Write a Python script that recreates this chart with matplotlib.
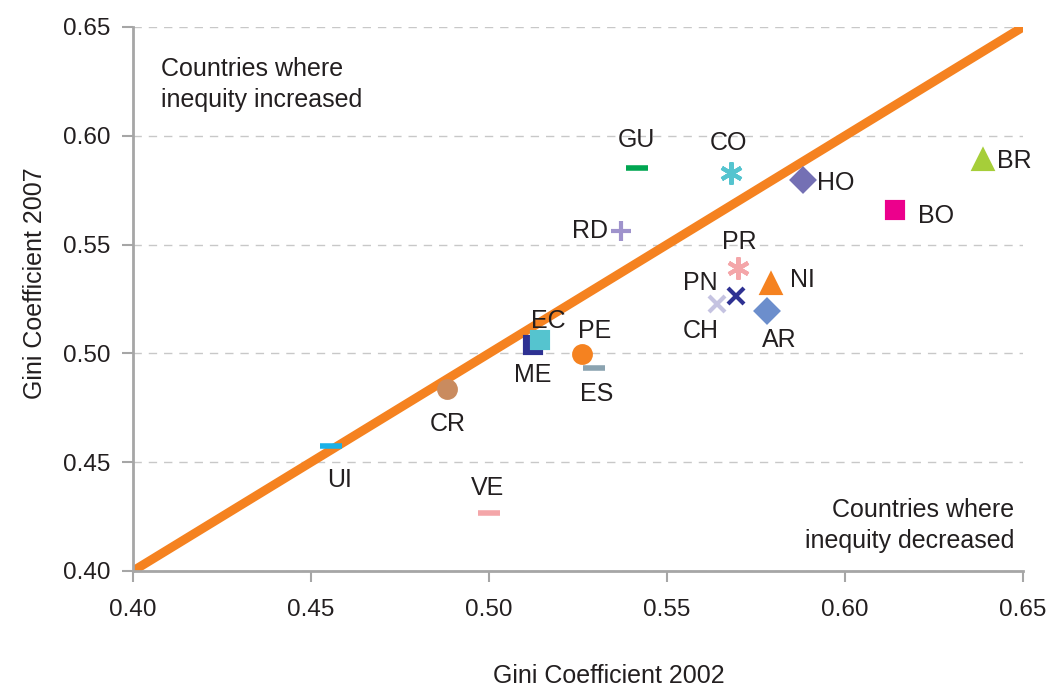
import matplotlib
matplotlib.use('Agg')
from matplotlib import pyplot as plt

plt.rcParams['font.family'] = ['Liberation Sans', 'DejaVu Sans']

# country data (Gini 2002, Gini 2007)
countries = ['UI', 'VE', 'CR', 'ME', 'EC', 'PE', 'ES', 'GU', 'CO', 'RD',
             'HO', 'BO', 'BR', 'PR', 'NI', 'PN', 'CH', 'AR']
gini_2002 = [0.4556, 0.5000, 0.4882, 0.5124, 0.5143, 0.5261, 0.5295, 0.5416, 0.5680, 0.5371,
             0.5882, 0.6140, 0.6388, 0.5699, 0.5792, 0.5694, 0.5640, 0.5781]
gini_2007 = [0.4574, 0.4267, 0.4836, 0.5039, 0.5062, 0.4997, 0.4933, 0.5852, 0.5829, 0.5563,
             0.5797, 0.5659, 0.5889, 0.5392, 0.5319, 0.5264, 0.5227, 0.5195]
diag = [0.40, 0.65]
ticks = [0.40, 0.45, 0.50, 0.55, 0.60, 0.65]

# marker style per country
styles = {
    'UI': ('_', '#1BB1E7', 16),
    'VE': ('_', '#F4A6A9', 16),
    'CR': ('o', '#C98B5F', 12),
    'ME': ('s', '#2E3192', 12),
    'EC': ('s', '#55C4CF', 12),
    'PE': ('o', '#F58220', 12),
    'ES': ('_', '#8BA3B0', 16),
    'GU': ('_', '#00A651', 16),
    'CO': ((6, 2, 0), '#55C4CF', 16),
    'RD': ('+', '#9F93CC', 14),
    'HO': ('D', '#7470B4', 11),
    'BO': ('s', '#EC008C', 12),
    'BR': ('^', '#A6CE39', 13),
    'PR': ((6, 2, 0), '#F4A6A9', 16),
    'NI': ('^', '#F58220', 13),
    'PN': ('x', '#2E3192', 12),
    'CH': ('x', '#C5C3E1', 12),
    'AR': ('D', '#6C8ECC', 11),
}
# label offsets in pixels
offsets = {
    'UI': (9, -34), 'VE': (-2, 25), 'CR': (1, -35), 'ME': (0, -30),
    'EC': (8, 19), 'PE': (13, 23), 'ES': (3, -26), 'GU': (-1, 28),
    'CO': (-3, 30), 'RD': (-31, 0), 'HO': (33, -3), 'BO': (41, -6),
    'BR': (31, -1), 'PR': (1, 26), 'NI': (31, 4), 'PN': (-36, 13),
    'CH': (-16, -27), 'AR': (12, -29),
}

fig = plt.figure(figsize=(10.5, 6.87), dpi=100)
ax = fig.add_axes([0.1267, 0.1689, 0.8476, 0.7918])

ax.plot(diag, diag, color='#F58220', lw=6.5, solid_capstyle='butt', zorder=2)

for c, x, y in zip(countries, gini_2002, gini_2007):
    m, col, ms = styles[c]
    lw_m = 4 if m == '_' else 3
    ax.plot([x], [y], marker=m, color=col, ms=ms, mew=lw_m, ls='none', zorder=3)
    dx, dy = offsets[c]
    ax.annotate(c, (x, y), xytext=(dx, dy), textcoords='offset pixels',
                ha='center', va='center', fontsize=18, color='#231F20', zorder=4)

ax.set_xlim(0.40, 0.65)
ax.set_ylim(0.40, 0.65)
ax.set_xticks(ticks)
ax.set_yticks(ticks)
ax.set_xticklabels([f'{t:.2f}' for t in ticks])
ax.set_yticklabels([f'{t:.2f}' for t in ticks])
ax.tick_params(axis='both', labelsize=17.5, colors='#A6A6A6', labelcolor='#231F20',
               length=8, width=1.5, direction='out')
ax.tick_params(axis='x', pad=12)
ax.tick_params(axis='y', pad=8)

ax.yaxis.grid(True, ls=(0, (6, 5)), color='#C8C8C8', lw=1)
ax.set_axisbelow(True)
for s in ['top', 'right']:
    ax.spines[s].set_visible(False)
for s in ['left', 'bottom']:
    ax.spines[s].set_color('#A6A6A6')
    ax.spines[s].set_linewidth(2)

ax.set_xlabel('Gini Coefficient 2002', fontsize=18, color='#231F20', labelpad=31)
ax.set_ylabel('Gini Coefficient 2007', fontsize=18, color='#231F20', labelpad=12)
ax.xaxis.label.set_x(0.535)
ax.yaxis.label.set_y(0.529)

ax.text(0.031, 0.945, 'Countries where\ninequity increased', transform=ax.transAxes,
        ha='left', va='top', fontsize=18, color='#231F20', linespacing=1.35)
ax.text(0.99, 0.033, 'Countries where\ninequity decreased', transform=ax.transAxes,
        ha='right', va='bottom', fontsize=18, color='#231F20', linespacing=1.35,
        multialignment='right')

fig.savefig('out.png', dpi=100)
